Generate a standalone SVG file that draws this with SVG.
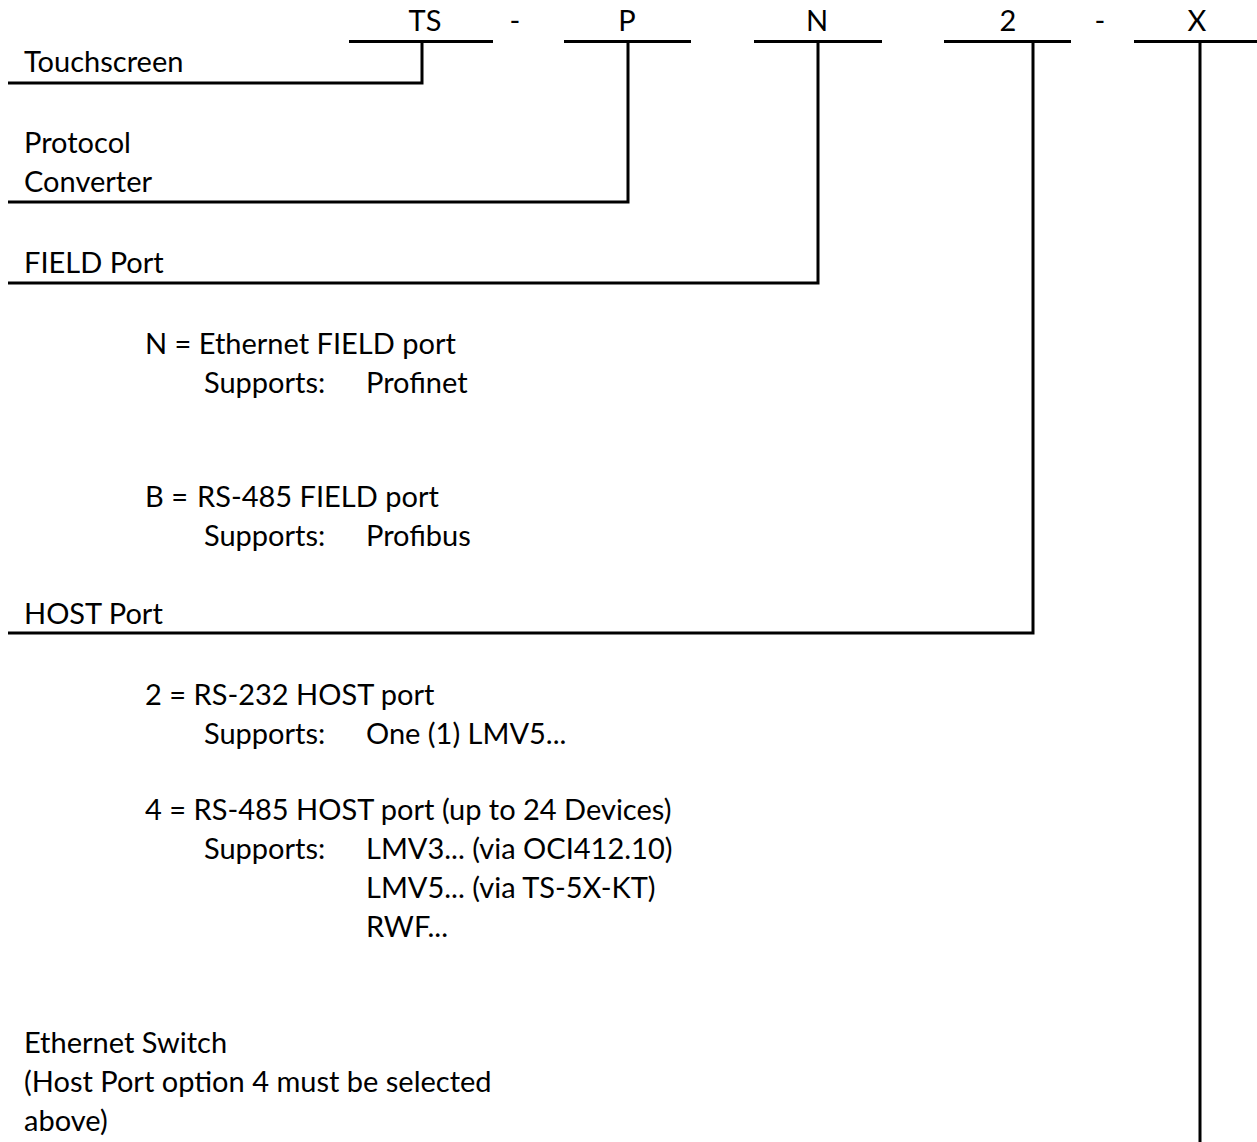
<svg xmlns="http://www.w3.org/2000/svg" width="1257" height="1142" viewBox="0 0 1257 1142">
<style>
text{font-family:Lato,"Liberation Sans",sans-serif;font-size:29px;fill:#000;white-space:pre}
.c{text-anchor:middle}
.ln{stroke:#000;stroke-width:3;fill:none}
</style>
<rect width="1257" height="1142" fill="#fff"/>
<g id="code">
<text class="c" x="425" y="31">TS</text>
<text class="c" x="515" y="31">-</text>
<text class="c" x="627" y="31">P</text>
<text class="c" x="817" y="31">N</text>
<text class="c" x="1008" y="31">2</text>
<text class="c" x="1100" y="31">-</text>
<text class="c" x="1197" y="31">X</text>
</g>
<g id="connectors">
<path class="ln" d="M349 41.5H493M564 41.5H691M754 41.5H882M944 41.5H1071M1134 41.5H1257"/>
<path class="ln" d="M422 41.5V83H8"/>
<path class="ln" d="M628 41.5V202H8"/>
<path class="ln" d="M818 41.5V283H8"/>
<path class="ln" d="M1033 41.5V633H8"/>
<path class="ln" d="M1200 41.5V1142"/>
</g>
<g id="touchscreen"><text x="24" y="72">Touchscreen</text></g>
<g id="protocol"><text x="24" y="153">Protocol</text><text x="24" y="192">Converter</text></g>
<g id="field">
<text x="24" y="273">FIELD Port</text>
<text x="145" y="354">N = Ethernet FIELD port</text>
<text x="204" y="393">Supports:</text><text x="366" y="393">Profinet</text>
<text x="145" y="507">B =</text><text x="197" y="507">RS-485 FIELD port</text>
<text x="204" y="546">Supports:</text><text x="366" y="546">Profibus</text>
</g>
<g id="host">
<text x="24" y="624">HOST Port</text>
<text x="145" y="705">2 = RS-232 HOST port</text>
<text x="204" y="744">Supports:</text><text x="366" y="744">One (1) LMV5...</text>
<text x="145" y="820">4 = RS-485 HOST port (up to 24 Devices)</text>
<text x="204" y="859">Supports:</text><text x="366" y="859">LMV3... (via OCI412.10)</text>
<text x="366" y="898">LMV5... (via TS-5X-KT)</text>
<text x="366" y="937">RWF...</text>
</g>
<g id="switch">
<text x="24" y="1053">Ethernet Switch</text>
<text x="24" y="1092">(Host Port option 4 must be selected</text>
<text x="24" y="1131">above)</text>
</g>
</svg>
